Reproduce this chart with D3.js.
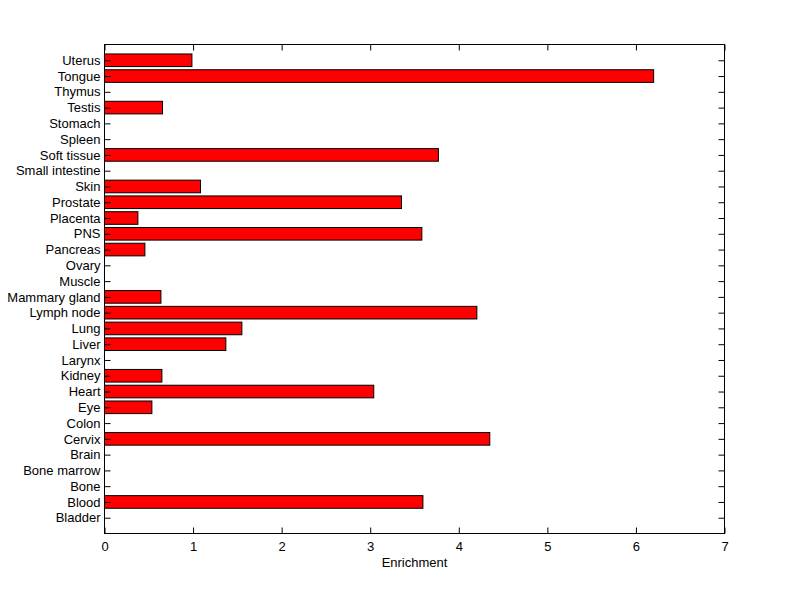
<!DOCTYPE html>
<html><head><meta charset="utf-8">
<script src="https://cdn.jsdelivr.net/npm/d3@7"></script>
<style>body{margin:0;background:#fff}text{font-family:"Liberation Sans",Arial,sans-serif;font-size:13px;fill:#000}</style>
</head><body><svg id="c" width="800" height="599"></svg>
<script>
const categories = ["Bladder","Blood","Bone","Bone marrow","Brain","Cervix","Colon","Eye","Heart","Kidney","Larynx","Liver","Lung","Lymph node","Mammary gland","Muscle","Ovary","Pancreas","PNS","Placenta","Prostate","Skin","Small intestine","Soft tissue","Spleen","Stomach","Testis","Thymus","Tongue","Uterus"];
const values = [0,3.595,0,0,0,4.35,0,0.535,3.04,0.648,0,1.37,1.551,4.204,0.637,0,0,0.456,3.583,0.377,3.353,1.084,0,3.77,0,0,0.655,0,6.20,0.987];
const xTicks = [0,1,2,3,4,5,6,7];
const xLabel = "Enrichment";

const svg = d3.select("#c");
const L=104.5, R=724.5, T=44.5, B=533.5;
const x = d3.scaleLinear().domain([0,7]).range([L,R]);
const y = d3.scaleLinear().domain([0,categories.length+1]).range([B,T]);
const bh = y(0)-y(0.8);

svg.append("g").selectAll("rect").data(values.map((v,i)=>({v,i}))).enter()
  .append("rect")
  .attr("x", x(0))
  .attr("y", d=>y(d.i+1)-bh/2)
  .attr("width", d=>x(d.v)-x(0))
  .attr("height", bh)
  .attr("fill","#ff0000").attr("stroke","#000").attr("stroke-width",1)
  .style("display", d=>d.v>0?null:"none");

const tl=6;
const xb = d3.axisBottom(x).tickValues(xTicks).tickFormat(d3.format("d")).tickSize(-tl).tickPadding(tl+2);
const gb = svg.append("g").attr("transform",`translate(0,${B})`).call(xb);
const xt = d3.axisTop(x).tickValues(xTicks).tickFormat("").tickSize(-tl);
const gt = svg.append("g").attr("transform",`translate(0,${T})`).call(xt);
const yTickVals = categories.map((c,i)=>i+1);
const yl = d3.axisLeft(y).tickValues(yTickVals).tickFormat(d=>categories[d-1]).tickSize(-tl).tickPadding(4);
const gl = svg.append("g").attr("transform",`translate(${L},0)`).call(yl);
const yr = d3.axisRight(y).tickValues(yTickVals).tickFormat("").tickSize(-tl);
const gr = svg.append("g").attr("transform",`translate(${R},0)`).call(yr);
[gb,gt,gl,gr].forEach(g=>{
  g.select(".domain").remove();
  g.selectAll("line").attr("stroke","#000");
  g.selectAll("text").attr("fill","#000").style("font-size","13px").style("font-family","Liberation Sans, Arial, sans-serif");
});
svg.append("rect").attr("x",L).attr("y",T).attr("width",R-L).attr("height",B-T)
  .attr("fill","none").attr("stroke","#000").attr("stroke-width",1);
svg.append("text").attr("x",(L+R)/2).attr("y",567).attr("text-anchor","middle").text(xLabel);
</script></body></html>
